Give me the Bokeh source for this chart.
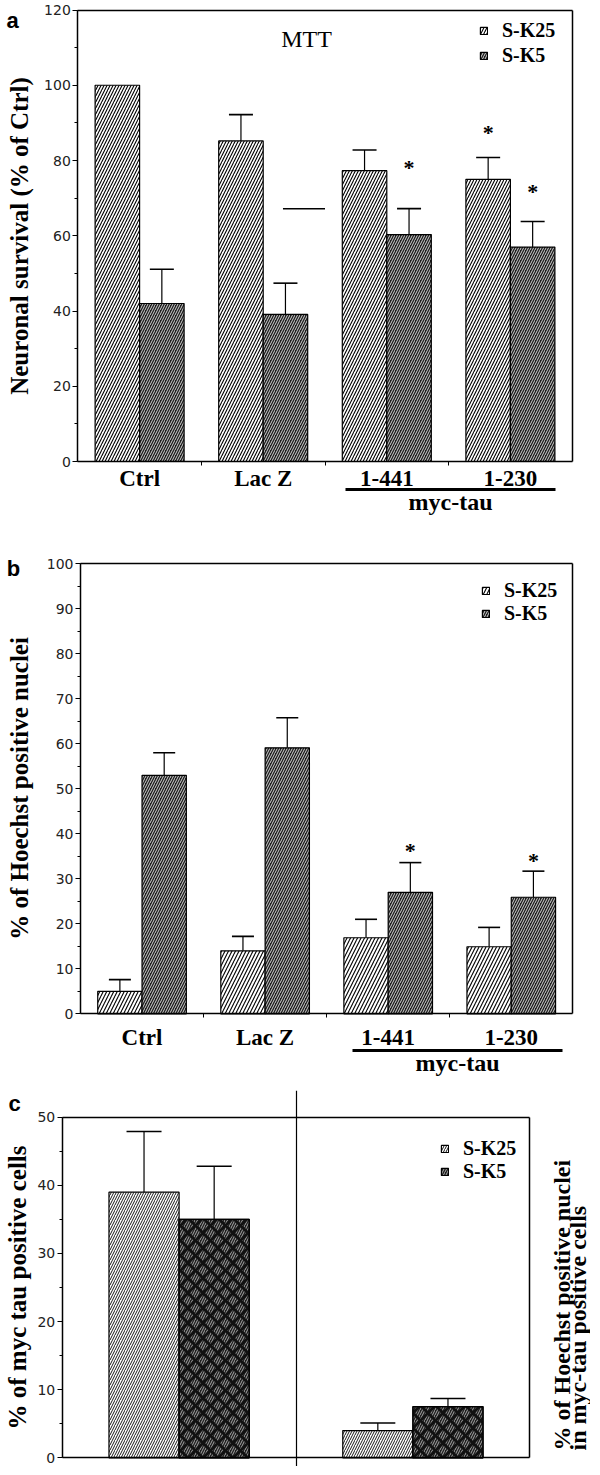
import math
from bokeh.plotting import figure
from bokeh.models import (Label, Legend, LegendItem, Whisker, TeeHead, FixedTicker,
                          SingleIntervalTicker, ColumnDataSource, Range1d, LinearAxis)
from bokeh.layouts import column
from bokeh.embed import file_html
from bokeh.resources import INLINE
from bokeh.core.properties import value

# ---------------- data ----------------
categories = ["Ctrl", "Lac Z", "1-441", "1-230"]
series = ["S-K25", "S-K5"]

# panel a: MTT, neuronal survival (% of Ctrl)
a_k25 = [100.0, 85.2, 77.3, 75.0]
a_k25_err = [0.0, 7.0, 5.5, 5.8]
a_k5 = [42.0, 39.1, 60.3, 57.0]
a_k5_err = [9.1, 8.3, 6.9, 6.8]
a_star_k25 = [None, None, None, 88.7]
a_star_k5 = [None, None, 79.4, 73.2]
a_bar_line_x = [1.66, 2.0]
a_bar_line_y = 67.2

# panel b: % of Hoechst positive nuclei
b_k25 = [5.0, 14.0, 16.9, 14.9]
b_k25_err = [2.6, 3.2, 4.1, 4.3]
b_k5 = [53.0, 59.1, 27.0, 25.9]
b_k5_err = [5.0, 6.7, 6.6, 5.8]
b_star_k25 = [None, None, None, None]
b_star_k5 = [None, None, 37.4, 35.2]

# panel c: left = % of myc tau positive cells, right = % Hoechst+ nuclei in myc-tau+ cells
c_groups = ["myc tau positive", "Hoechst positive in myc-tau"]
c_k25 = [39.0, 4.0]
c_k25_err = [8.9, 1.1]
c_k5 = [35.0, 7.5]
c_k5_err = [7.8, 1.2]

SERIF = "Liberation Serif"
SANS = "DejaVu Sans"
W = 590          # canvas width
PAGE_X0 = 0


class Panel:
    """Maps page pixels to data units; the frame covers the whole canvas and the
    axes are drawn at fixed data locations."""

    def __init__(self, top, height, xd, xpx, yd, ypx):
        self.top, self.height = top, height
        self.kx = (xd[1] - xd[0]) / (xpx[1] - xpx[0])
        self.ky = (yd[1] - yd[0]) / (ypx[1] - ypx[0])
        self.xd0, self.xp0, self.yd0, self.yp0 = xd[0], xpx[0], yd[0], ypx[0]
        xr = (self.dx(PAGE_X0), self.dx(PAGE_X0 + W))
        yr = (self.dy(top + height), self.dy(top))
        p = figure(width=W, height=height, output_backend="svg", toolbar_location=None,
                   title=None, x_range=Range1d(*xr), y_range=Range1d(*yr), min_border=0)
        p.min_border_left = p.min_border_right = p.min_border_top = p.min_border_bottom = 0
        p.outline_line_color = None
        p.xgrid.visible = False
        p.ygrid.visible = False
        p.background_fill_color = "white"
        p.border_fill_color = "white"
        self.p = p
        self.xa = p.below[0]
        self.ya = p.left[0]

    def dx(self, px):
        return self.xd0 + (px - self.xp0) * self.kx

    def dy(self, py):
        return self.yd0 + (py - self.yp0) * self.ky

    def legend_xy(self, page_x, page_y):
        return (page_x - PAGE_X0, self.top + self.height - page_y)


def box_axes(P, xb, yb, interval, ylabel, ylabel_size, ylabel_standoff):
    p = P.p
    ya = P.ya
    ya.fixed_location = xb[0]
    ya.bounds = yb
    ya.ticker = SingleIntervalTicker(interval=interval, num_minor_ticks=2)
    ya.major_label_text_font = SANS
    ya.major_label_text_font_size = "14px"
    ya.major_label_text_color = "#222222"
    ya.major_tick_in = 0
    ya.major_tick_out = 5
    ya.minor_tick_in = 0
    ya.minor_tick_out = 3
    ya.major_label_standoff = 2
    ya.axis_line_width = 1.5
    ya.major_tick_line_width = 1.2
    ya.axis_label = ylabel
    ya.axis_label_text_font = SERIF
    ya.axis_label_text_font_style = "bold"
    ya.axis_label_text_font_size = ylabel_size
    ya.axis_label_text_color = "black"
    ya.axis_label_standoff = ylabel_standoff
    # right and top edges of the plot box
    for loc, side, bnd in [(xb[1], "right", yb), (yb[1], "above", xb)]:
        ax = LinearAxis(fixed_location=loc, bounds=bnd, ticker=FixedTicker(ticks=[]),
                        axis_line_width=1.5, axis_line_color="black",
                        major_tick_line_color=None, minor_tick_line_color=None)
        p.add_layout(ax, side)


def cat_axis(P, standoff):
    ax = P.xa
    ax.fixed_location = 0
    ax.bounds = (0, len(categories))
    ax.ticker = FixedTicker(ticks=[i + 0.5 for i in range(len(categories))],
                            minor_ticks=list(range(1, len(categories))))
    ax.major_label_overrides = {i + 0.5: c for i, c in enumerate(categories)}
    ax.major_label_text_font = SERIF
    ax.major_label_text_font_style = "bold"
    ax.major_label_text_font_size = "23px"
    ax.major_label_text_color = "black"
    ax.major_tick_in = 0
    ax.major_tick_out = 0
    ax.minor_tick_in = 0
    ax.minor_tick_out = 4
    ax.major_label_standoff = standoff
    ax.axis_line_width = 1.5


def myc_tau_axis(P, x0, x1, y, xlab, standoff):
    ax = LinearAxis(fixed_location=y, bounds=(x0, x1), ticker=FixedTicker(ticks=[xlab]),
                    major_label_overrides={xlab: "myc-tau"},
                    major_label_text_font=SERIF, major_label_text_font_style="bold",
                    major_label_text_font_size="24px", major_label_text_color="black",
                    major_label_standoff=standoff, major_tick_line_color=None,
                    minor_tick_line_color=None, axis_line_width=3, axis_line_color="black")
    P.p.add_layout(ax, "below")


def bars(p, xs, tops, errs, width, scale25, w25, cap, k5_extra=False):
    rs = []
    for s, (vals, err) in enumerate(zip(tops, errs)):
        src = ColumnDataSource(dict(x=xs[s], top=vals))
        if s == 0:
            r = p.vbar(x="x", top="top", width=width, bottom=0, source=src,
                       fill_color="white", line_color="black", line_width=1.2,
                       hatch_pattern="/", hatch_scale=scale25, hatch_weight=w25,
                       hatch_color="black")
        else:
            r = p.vbar(x="x", top="top", width=width, bottom=0, source=src,
                       fill_color="#1e1e1e", line_color="black", line_width=1.2,
                       hatch_pattern="/", hatch_scale=5, hatch_weight=1.0,
                       hatch_color="white", hatch_alpha=0.6 if k5_extra else 0.8)
            if k5_extra:
                p.vbar(x="x", top="top", width=width, bottom=0, source=src,
                       fill_alpha=0, line_color="black", line_width=1.2,
                       hatch_pattern="x", hatch_scale=15, hatch_weight=3.0,
                       hatch_color="#111111")
        rs.append(r)
        ex = [x for x, e in zip(xs[s], err) if e > 0]
        lo = [v for v, e in zip(vals, err) if e > 0]
        up = [v + e for v, e in zip(vals, err) if e > 0]
        wsrc = ColumnDataSource(dict(x=ex, lower=lo, upper=up))
        p.add_layout(Whisker(source=wsrc, base="x", lower="lower", upper="upper",
                             dimension="height", line_color="black", line_width=1.2,
                             lower_head=None,
                             upper_head=TeeHead(size=cap, line_color="black", line_width=1.6)))
    return rs


def stars(p, xs, ys_list):
    sx, sy = [], []
    for s, ys in enumerate(ys_list):
        for x, y in zip(xs[s], ys):
            if y is not None:
                sx.append(x)
                sy.append(y)
    p.text(x=sx, y=sy, text=["*"] * len(sx), text_align="center", text_baseline="middle",
           text_font=value(SERIF), text_font_style="bold", text_font_size="22px",
           y_offset=5, text_color="black")


def legend(p, rs, loc, spacing):
    lg = Legend(items=[LegendItem(label=series[0], renderers=[rs[0]]),
                       LegendItem(label=series[1], renderers=[rs[1]])],
                location=loc, border_line_color=None, background_fill_alpha=0,
                label_text_font=SERIF, label_text_font_style="bold",
                label_text_font_size="20px", label_text_color="black",
                glyph_width=9, glyph_height=9,
                label_standoff=14, spacing=spacing, padding=3, margin=0,
                label_height=20)
    p.add_layout(lg)


def page_label(P, px, py, text, size, bold=True, angle=0.0, align="center", font=SERIF):
    P.p.add_layout(Label(x=P.dx(px), y=P.dy(py), text=text, angle=angle,
                         text_align=align, text_baseline="middle", text_font=font,
                         text_font_style="bold" if bold else "normal",
                         text_font_size=size, text_color="black"))


off = 0.18
bw = 0.36
xs4 = [[i + 0.5 - off for i in range(4)], [i + 0.5 + off for i in range(4)]]

# ---------------- panel a ----------------
A = Panel(0, 548, (0, 4), (77.3, 571.7), (0, 120), (461, 9.5))
pa = A.p
box_axes(A, (0, 4), (0, 120), 20, "Neuronal survival (% of Ctrl)", "25px", 8)
cat_axis(A, 0)
myc_tau_axis(A, A.dx(345), A.dx(555), A.dy(489.3), A.dx(450), -7)
ra = bars(pa, xs4, [a_k25, a_k5], [a_k25_err, a_k5_err], bw, 6, 1.1, 24)
pa.segment(x0=[a_bar_line_x[0]], x1=[a_bar_line_x[1]], y0=[a_bar_line_y], y1=[a_bar_line_y],
           line_color="black", line_width=1.5)
stars(pa, xs4, [a_star_k25, a_star_k5])
legend(pa, ra, A.legend_xy(479, 66.5), 2)
page_label(A, 12, 20, "a", "22px", font="Liberation Sans")
page_label(A, 306, 38, "MTT", "24px", bold=False)

# ---------------- panel b ----------------
B = Panel(548, 542, (0, 4), (80, 572.3), (0, 100), (1013.3, 563.3))
pb = B.p
box_axes(B, (0, 4), (0, 100), 10, "% of Hoechst positive nuclei", "25px", 11)
cat_axis(B, 7)
myc_tau_axis(B, B.dx(352.4), B.dx(561.9), B.dy(1050), B.dx(457), -7)
rb = bars(pb, xs4, [b_k25, b_k5], [b_k25_err, b_k5_err], bw, 7, 1.1, 22)
stars(pb, xs4, [b_star_k25, b_star_k5])
legend(pb, rb, B.legend_xy(481, 624.5), 0)
page_label(B, 13, 568, "b", "22px", font="Liberation Sans")

# ---------------- panel c ----------------
C = Panel(1090, 376, (0, 2), (61.7, 529.3), (0, 50), (1457.3, 1116.7))
pc = C.p
box_axes(C, (0, 2), (0, 50), 10, "% of myc tau positive cells", "25px", 4)
axc = C.xa
axc.fixed_location = 0
axc.bounds = (0, 2)
axc.ticker = FixedTicker(ticks=[])
axc.major_tick_line_color = None
axc.minor_tick_line_color = None
axc.axis_line_width = 1.5
pc.xgrid.visible = True
pc.xgrid.ticker = FixedTicker(ticks=[1])
pc.xgrid.bounds = (C.dy(1463), 50)
pc.xgrid.grid_line_color = "black"
pc.xgrid.grid_line_width = 1.2
xc = [[0.35, 1.35], [0.65, 1.65]]
rc = bars(pc, xc, [c_k25, c_k5], [c_k25_err, c_k5_err], 0.30, 5, 0.9, 35, k5_extra=True)
legend(pc, rc, C.legend_xy(440, 1183.2), 0)
page_label(C, 14, 1103, "c", "22px", font="Liberation Sans")
page_label(C, 561, 1450, "% of Hoechst positive nuclei", "24px", angle=math.pi / 2, align="left")
page_label(C, 577, 1450, "in myc-tau positive cells", "24px", angle=math.pi / 2, align="left")

layout = column(pa, pb, pc, spacing=0)
open("out.html", "w").write(file_html(layout, INLINE))
